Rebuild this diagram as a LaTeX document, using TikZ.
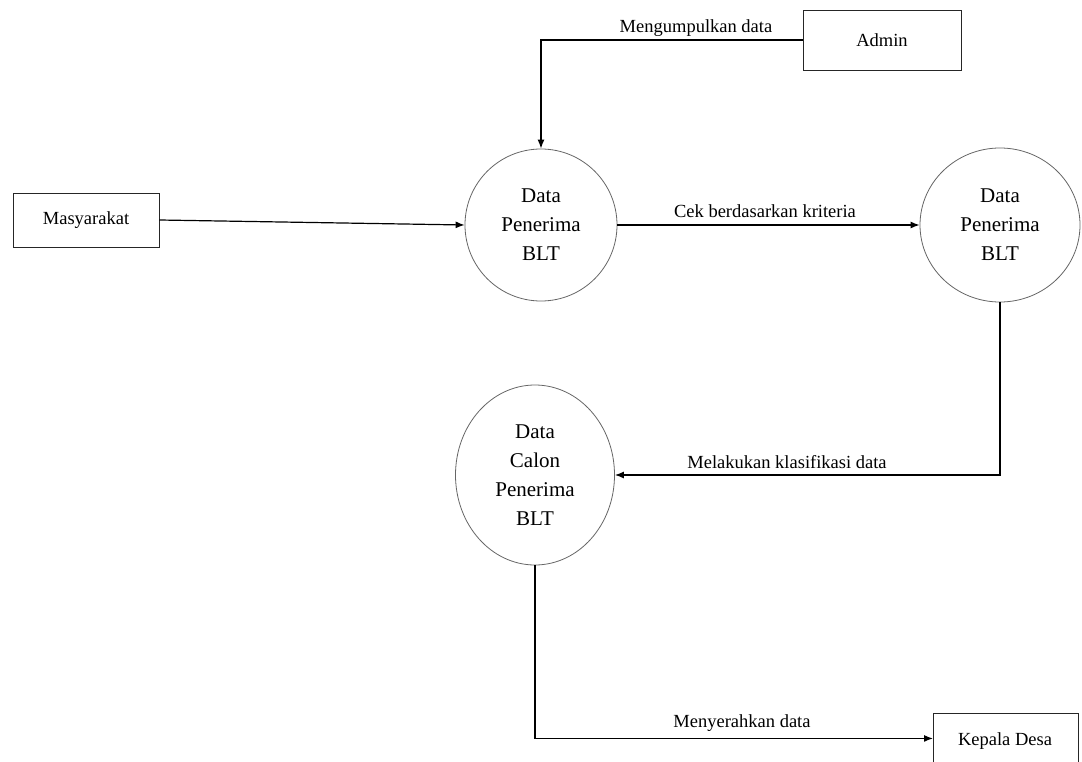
\documentclass[tikz,border=0pt]{standalone}
\usepackage{fontspec}
\setmainfont{Liberation Serif}
\usetikzlibrary{shapes.geometric,arrows.meta}
\begin{document}
\begin{tikzpicture}[x=1pt,y=-1pt,
  entity/.style={draw=black!85,line width=0.9pt,rectangle,inner sep=0pt,
    font=\fontsize{18.5}{22}\selectfont},
  process/.style={draw=black!60,line width=0.8pt,ellipse,inner sep=0pt,align=center,
    font=\fontsize{21}{29}\selectfont},
  flow/.style={line width=1.2pt,-{Latex[length=9pt,width=7pt]}},
  lbl/.style={font=\fontsize{18.5}{22}\selectfont,inner sep=0pt}]
\clip (0,0) rectangle (1082,762);
\fill[white] (0,0) rectangle (1082,762);

% external entities
\node[entity,minimum width=158pt,minimum height=60pt] (admin) at (882,40) {Admin};
\node[entity,minimum width=146pt,minimum height=54pt] (masy) at (86,220) {Masyarakat};
\node[entity,minimum width=145pt,minimum height=50pt,anchor=north west] (kd) at (933,713) {};
\node[lbl] at (1005,741) {Kepala Desa};

% processes
\node[process,minimum width=152pt,minimum height=152pt] (c1) at (541,225) {Data\\Penerima\\BLT};
\node[process,minimum width=160pt,minimum height=154pt] (c2) at (1000,225) {Data\\Penerima\\BLT};
\node[process,minimum width=159pt,minimum height=180pt] (c3) at (535,475) {Data\\Calon\\Penerima\\BLT};

% data flows
\draw[flow] (admin.west) -- (c1.north |- admin.west) -- (c1.north);
\draw[flow] (masy.east) -- (c1.west);
\draw[flow] (c1.east) -- (c2.west);
\draw[flow] (c2.south) -- (c2.south |- c3.east) -- (c3.east);
\draw[flow] (c3.south) -- (c3.south |- kd.west) -- (kd.west);

% flow labels
\node[lbl] (l1) at (696,28) {Mengumpulkan data};
\node[lbl] (l2) at (765,211) {Cek berdasarkan kriteria};
\node[lbl] (l3) at (787,462) {Melakukan klasifikasi data};
\node[lbl] (l4) at (742,723) {Menyerahkan data};
\end{tikzpicture}
\end{document}
